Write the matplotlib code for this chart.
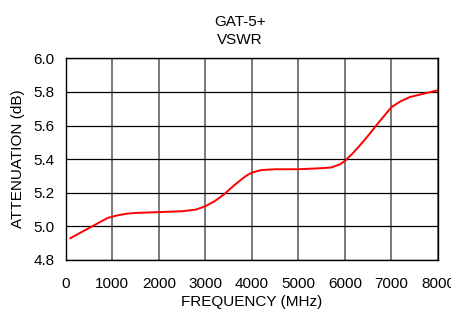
import matplotlib
matplotlib.use('Agg')
import matplotlib.pyplot as plt

plt.rcParams['font.family'] = ['Liberation Sans', 'DejaVu Sans']

freq = [100, 300, 500, 700, 900, 1100, 1300, 1500, 2000, 2500, 2800, 3000, 3200,
        3400, 3600, 3800, 3900, 4000, 4200, 4500, 5000, 5400, 5700, 5900, 6000,
        6150, 6300, 6500, 6700, 6850, 7000, 7200, 7400, 7700, 8000]
atten = [4.93, 4.96, 4.99, 5.02, 5.05, 5.065, 5.075, 5.08, 5.085, 5.09, 5.10, 5.12,
         5.15, 5.19, 5.24, 5.285, 5.305, 5.32, 5.335, 5.34, 5.34, 5.345, 5.35, 5.37,
         5.39, 5.43, 5.475, 5.54, 5.61, 5.66, 5.71, 5.745, 5.77, 5.79, 5.81]

xticks = list(range(0, 8001, 1000))
yticks = [4.8, 5.0, 5.2, 5.4, 5.6, 5.8, 6.0]

fig = plt.figure(figsize=(4.52, 3.12), dpi=100)
ax = fig.add_axes([0.1454, 0.1667, 0.8236, 0.6463])

ax.plot(freq, atten, color='#ff0000', lw=1.4)
ax.set_xlim(0, 8000)
ax.set_ylim(4.8, 6.0)
ax.set_xticks(xticks)
ax.set_yticks(yticks)
ax.set_yticklabels([f'{v:.1f}' for v in yticks])
ax.tick_params(labelsize=11, length=0)
ax.tick_params(axis='x', pad=12)
ax.tick_params(axis='y', pad=8)
ax.xaxis.grid(True, color='#707070', lw=1.3)
ax.yaxis.grid(True, color='black', lw=0.9)
ax.set_axisbelow(True)
for s in ax.spines.values():
    s.set_color('black')
    s.set_linewidth(1.0)

ax.set_xlabel('FREQUENCY (MHz)', fontsize=11, labelpad=3)
ax.set_ylabel('ATTENUATION (dB)', fontsize=11, labelpad=6)
fig.text(240 / 452, 1 - 22 / 312, 'GAT-5+', ha='center', va='center', fontsize=11)
fig.text(240 / 452, 1 - 40 / 312, 'VSWR', ha='center', va='center', fontsize=11)

fig.savefig('out.png', dpi=100)
